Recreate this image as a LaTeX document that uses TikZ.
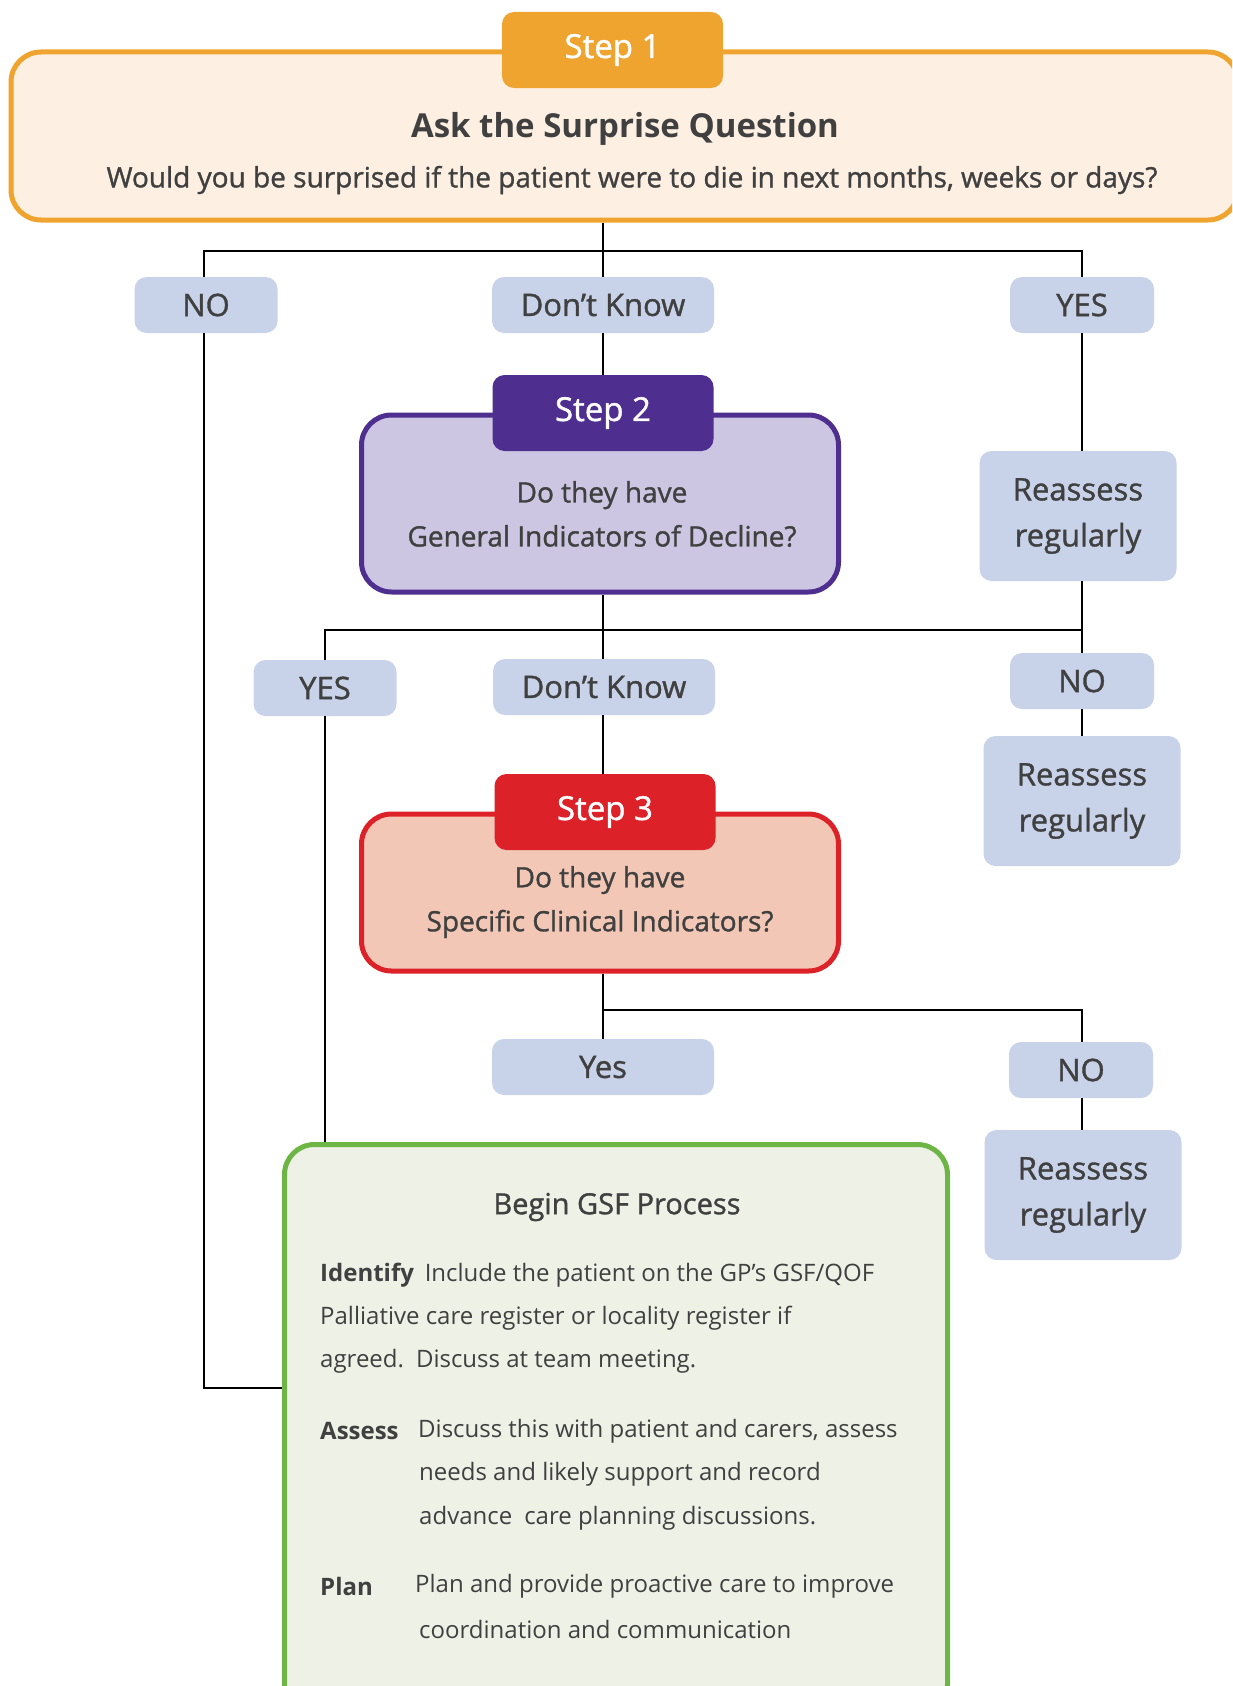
\documentclass[tikz,border=0pt]{standalone}
\usepackage{fontspec}
\setmainfont{Open Sans}
\newfontfamily\semib[FakeBold=1.2]{Open Sans}
\usetikzlibrary{calc}
\definecolor{txt}{HTML}{404040}
\definecolor{orangeC}{HTML}{EEA42E}
\definecolor{orangeF}{HTML}{FDF0E2}
\definecolor{purpleC}{HTML}{4E2E8E}
\definecolor{purpleF}{HTML}{CCC6E2}
\definecolor{redC}{HTML}{DC2128}
\definecolor{redF}{HTML}{F2C7B5}
\definecolor{greenC}{HTML}{6DB646}
\definecolor{greenF}{HTML}{EDF1E6}
\definecolor{labelF}{HTML}{C8D3EA}
\tikzset{
  bigbox/.style={draw, line width=5pt, rounded corners=30pt, inner sep=0pt},
  steptab/.style={rounded corners=12pt, inner sep=0pt, minimum width=221pt, minimum height=76pt,
    text=white, font=\semib\fontsize{33}{38}\selectfont},
  answer/.style={fill=labelF, rounded corners=12pt, inner sep=0pt, minimum height=56pt,
    text=txt, font=\semib\fontsize{31}{34}\selectfont},
  reassess/.style={fill=labelF, rounded corners=12pt, inner sep=0pt, minimum width=197pt,
    minimum height=130pt, text=txt, align=center, font=\semib\fontsize{31}{46}\selectfont},
  question/.style={text=txt, align=center, font=\semib\fontsize{28}{44}\selectfont},
  link/.style={draw=black, line width=2.5pt},
  body/.style={text=txt, anchor=west, inner sep=0pt, font=\fontsize{24}{28}\selectfont},
}
\begin{document}
\begin{tikzpicture}[x=1pt, y=-1pt]
\useasboundingbox (0,0) rectangle (1232,1686);
\clip (0,0) rectangle (1232,1686);

% Step 1: the surprise question
\node[bigbox, draw=orangeC, fill=orangeF, minimum width=1227pt, minimum height=168pt] (s1box) at (624.5,136) {};
\node[steptab, fill=orangeC] (s1tab) at (612.5,50) {Step 1};
\node[text=txt, font=\fontsize{33}{38}\selectfont\bfseries] (s1title) at (625,129) {Ask the Surprise Question};
\node[text=txt, font=\semib\fontsize{28}{32}\selectfont] (s1q) at (632,180) {Would you be surprised if the patient were to die in next months, weeks or days?};

% First answers
\node[answer, minimum width=143pt] (no1) at (206,305) {NO};
\node[answer, minimum width=222pt] (dk1) at (603,305) {Don’t Know};
\node[answer, minimum width=144pt] (yes1) at (1082,305) {YES};
\node[reassess] (re1) at (1078,516) {Reassess\\regularly};

% Step 2: general indicators
\node[bigbox, draw=purpleC, fill=purpleF, minimum width=477pt, minimum height=177pt] (s2box) at (600,503.5) {};
\node[steptab, fill=purpleC] (s2tab) at (603,413) {Step 2};
\node[question] (s2q) at (602,514) {Do they have\\General Indicators of Decline?};

% Second answers
\node[answer, minimum width=143pt] (yes2) at (325,688) {YES};
\node[answer, minimum width=222pt] (dk2) at (604,687) {Don’t Know};
\node[answer, minimum width=144pt] (no2) at (1082,681) {NO};
\node[reassess] (re2) at (1082,801) {Reassess\\regularly};

% Step 3: specific clinical indicators
\node[bigbox, draw=redC, fill=redF, minimum width=477pt, minimum height=157pt] (s3box) at (600,892.5) {};
\node[steptab, fill=redC] (s3tab) at (605,812) {Step 3};
\node[question] (s3q) at (600,902) {Do they have\\Specific Clinical Indicators?};

% Third answers
\node[answer, minimum width=222pt] (yes3) at (603,1067) {Yes};
\node[answer, minimum width=144pt] (no3) at (1081,1070) {NO};
\node[reassess] (re3) at (1083,1195) {Reassess\\regularly};

% GSF process
\node[bigbox, draw=greenC, fill=greenF, minimum width=663pt, minimum height=570pt, anchor=north west] (gsf) at (282,1142) {};
\node[text=txt, font=\semib\fontsize{29}{32}\selectfont] (gsftitle) at (617,1207) {Begin GSF Process};
\node[body] (idA) at (320,1275) {\textbf{Identify}\hspace{0.45em}Include the patient on the GP’s GSF/QOF};
\node[body] (idB) at (320,1318) {Palliative care register or locality register if};
\node[body] (idC) at (320,1361) {agreed.\hspace{0.5em}Discuss at team meeting.};
\node[body] (asA) at (320,1431) {\textbf{Assess}};
\node[body] (asB) at (418,1431) {Discuss this with patient and carers, assess};
\node[body] (asC) at (419,1474) {needs and likely support and record};
\node[body] (asD) at (419,1518) {advance\hspace{0.5em}care planning discussions.};
\node[body] (plA) at (320,1586) {\textbf{Plan}};
\node[body] (plB) at (415,1586) {Plan and provide proactive care to improve};
\node[body] (plC) at (419,1629) {coordination and communication};

% Connectors
\coordinate (bus1) at (603,251);
\coordinate (bus2) at (603,630);
\coordinate (bus3) at (603,1010);
\coordinate (jL) at (204,1388);

\draw[link] (s1box.south -| bus1) -- (dk1.north);
\draw[link] (jL |- no1.north) -- (jL |- bus1) -- (bus1 -| yes1.north) -- (yes1.north);
\draw[link] (jL |- no1.south) -- (jL) -- (jL -| gsf.west);
\draw[link] (dk1.south) -- (dk1.south -| s2tab.north) -- (s2tab.north);
\draw[link] (yes1.south) -- (re1.north -| yes1.south);
\draw[link] (re1.south -| yes1.south) -- (no2.north -| yes1.south);
\draw[link] (s2box.south -| bus2) -- (dk2.north -| bus2);
\draw[link] (yes2.north) -- (yes2.north |- bus2) -- (bus2 -| yes1.south);
\draw[link] (dk2.south -| bus2) -- (s3tab.north -| bus2);
\draw[link] (no2.south -| yes1.south) -- (re2.north -| yes1.south);
\draw[link] (yes2.south) -- (yes2.south |- gsf.north);
\draw[link] (s3box.south -| bus3) -- (yes3.north -| bus3);
\draw[link] (bus3) -- (bus3 -| yes1.south) -- (no3.north -| yes1.south);
\draw[link] (no3.south -| yes1.south) -- (re3.north -| yes1.south);
\end{tikzpicture}
\end{document}
